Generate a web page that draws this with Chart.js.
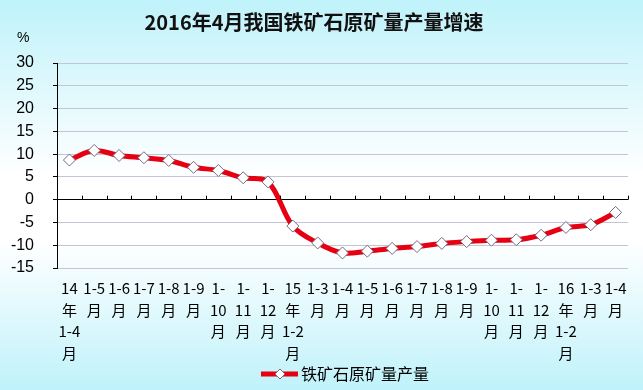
<!DOCTYPE html>
<html>
<head>
<meta charset="utf-8">
<script src="https://cdn.jsdelivr.net/npm/chart.js@4"></script>
<style>
  html, body { margin: 0; padding: 0; }
  #wrap { width: 643px; height: 390px; }
</style>
</head>
<body>
<div id="wrap"><canvas id="chart" width="643" height="390"></canvas></div>
<script>
// chart data
const chartTitle = "2016年4月我国铁矿石原矿量产量增速";
const seriesName = "铁矿石原矿量产量";
const monthLabels = [
  ["14", "年", "1-4", "月"], ["1-5", "月"], ["1-6", "月"], ["1-7", "月"], ["1-8", "月"],
  ["1-9", "月"], ["1-", "10", "月"], ["1-", "11", "月"], ["1-", "12", "月"],
  ["15", "年", "1-2", "月"], ["1-3", "月"], ["1-4", "月"], ["1-5", "月"], ["1-6", "月"],
  ["1-7", "月"], ["1-8", "月"], ["1-9", "月"], ["1-", "10", "月"], ["1-", "11", "月"],
  ["1-", "12", "月"],
  ["16", "年", "1-2", "月"], ["1-3", "月"], ["1-4", "月"]
];
const growthValues = [
  8.7, 10.8, 9.7, 9.2, 8.6, 7.1, 6.4, 4.8, 3.9,
  -5.8, -9.5, -11.7, -11.3, -10.7, -10.3, -9.6, -9.2, -8.9, -8.8, -7.8,
  -6.1, -5.5, -2.8
];
const yMin = -15, yMax = 30, yStep = 5;

const lineRed = "#e60012";
const cjkFont = "'Noto Sans CJK SC', 'Noto Sans', sans-serif";

// background gradient, % sign, zero-line ticks and legend
const decorPlugin = {
  id: "decor",
  beforeDraw(chart) {
    const { ctx, width, height } = chart;
    const g = ctx.createLinearGradient(0, 0, 0, height);
    g.addColorStop(0, "#bff2fa");
    g.addColorStop(0.45, "#ffffff");
    g.addColorStop(0.62, "#ffffff");
    g.addColorStop(1, "#bff2fa");
    ctx.save();
    ctx.fillStyle = g;
    ctx.fillRect(0, 0, width, height);
    ctx.restore();
  },
  afterDraw(chart) {
    const { ctx, chartArea } = chart;
    const xs = chart.scales.x;
    const ys = chart.scales.y;
    const y0 = ys.getPixelForValue(0);
    const step = chartArea.width / monthLabels.length;

    ctx.save();
    // category ticks on the zero line
    ctx.strokeStyle = "#000";
    ctx.lineWidth = 1;
    ctx.beginPath();
    for (let i = 0; i <= monthLabels.length; i++) {
      const x = Math.round(xs.getPixelForValue(0) - step / 2 + i * step) + 0.5;
      ctx.moveTo(x, y0 - 4);
      ctx.lineTo(x, y0);
    }
    ctx.stroke();

    // unit label
    ctx.fillStyle = "#000";
    ctx.font = "14px 'Liberation Sans', Arial, sans-serif";
    ctx.textAlign = "left";
    ctx.textBaseline = "middle";
    ctx.fillText("%", 17, 38);

    // legend
    const ds = chart.data.datasets[0];
    const ly = 374;
    ctx.strokeStyle = ds.borderColor;
    ctx.lineWidth = 5;
    ctx.beginPath();
    ctx.moveTo(261, ly);
    ctx.lineTo(298, ly);
    ctx.stroke();
    ctx.fillStyle = "#fff";
    ctx.strokeStyle = "#7a6a80";
    ctx.lineWidth = 1;
    ctx.beginPath();
    ctx.moveTo(280, ly - 5);
    ctx.lineTo(285, ly);
    ctx.lineTo(280, ly + 5);
    ctx.lineTo(275, ly);
    ctx.closePath();
    ctx.fill();
    ctx.stroke();
    ctx.fillStyle = "#000";
    ctx.font = "16px " + cjkFont;
    ctx.textAlign = "left";
    ctx.fillText(ds.label, 301, ly);
    ctx.restore();
  }
};

new Chart(document.getElementById("chart"), {
  type: "line",
  data: {
    labels: monthLabels,
    datasets: [{
      label: seriesName,
      data: growthValues,
      borderColor: lineRed,
      backgroundColor: "#ffffff",
      borderWidth: 5,
      tension: 0.35,
      pointStyle: "rectRot",
      pointRadius: 6,
      pointBackgroundColor: "#ffffff",
      pointBorderColor: "#7a6a80",
      pointBorderWidth: 1
    }]
  },
  options: {
    responsive: false,
    animation: false,
    layout: { padding: { top: 0, right: 15, bottom: 0, left: 0 } },
    plugins: {
      legend: { display: false },
      tooltip: { enabled: false },
      title: {
        display: true,
        text: chartTitle,
        color: "#111",
        font: { size: 20, weight: "bold", family: cjkFont, lineHeight: 1.2 },
        padding: { top: 10, bottom: 29 }
      }
    },
    scales: {
      x: {
        offset: true,
        grid: { display: false },
        border: { display: false },
        ticks: {
          autoSkip: false,
          maxRotation: 0,
          minRotation: 0,
          padding: 2,
          color: "#000",
          font: { size: 15, family: cjkFont, lineHeight: 1.43 }
        },
        afterFit(scale) { scale.height = 122; }
      },
      y: {
        min: yMin,
        max: yMax,
        border: { display: true, color: "#000", width: 1 },
        grid: {
          color: (c) => (c.tick && c.tick.value === 0 ? "#000" : "#c4c4d4"),
          tickColor: "#000",
          tickLength: 4
        },
        ticks: {
          stepSize: yStep,
          padding: 19,
          color: "#000",
          font: { size: 16, family: "'Liberation Sans', Arial, sans-serif" }
        },
        afterFit(scale) { scale.width = 57; }
      }
    }
  },
  plugins: [decorPlugin]
});
</script>
</body>
</html>
